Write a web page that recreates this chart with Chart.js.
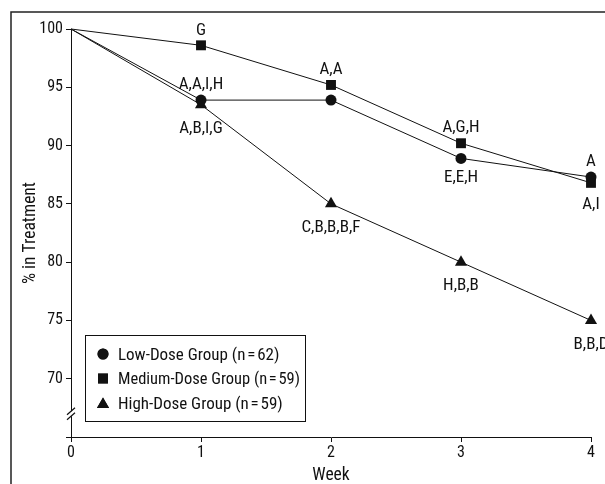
<!DOCTYPE html>
<html>
<head>
<meta charset="utf-8">
<script src="https://cdn.jsdelivr.net/npm/chart.js@4/dist/chart.umd.min.js"></script>
<style>
  html, body { margin: 0; padding: 0; background: #fff; }
</style>
</head>
<body>
<canvas id="chart" width="605" height="484"></canvas>
<script>
// values
const weeks = [0, 1, 2, 3, 4];
const yTicks = [65, 70, 75, 80, 85, 90, 95, 100];

const lowDose = [100, 93.9, 93.9, 88.9, 87.3];
const mediumDose = [100, 98.6, 95.2, 90.2, 86.8];
const highDose = [100, 93.5, 85.0, 80.0, 75.0];

const lowNotes = ['', 'A,A,I,H', '', 'E,E,H', 'A'];
const mediumNotes = ['', 'G', 'A,A', 'A,G,H', 'A,I'];
const highNotes = ['', 'A,B,I,G', 'C,B,B,B,F', 'H,B,B', 'B,B,D'];

const seriesNames = ['Low-Dose Group (n\u200A=\u200A62)', 'Medium-Dose Group (n\u200A=\u200A59)', 'High-Dose Group (n\u200A=\u200A59)'];

const FONT = '"Liberation Sans Narrow", "Arial Narrow", "Roboto Condensed", "DejaVu Sans Condensed", sans-serif';
const INK = '#111';
Chart.defaults.font.family = FONT;
Chart.defaults.color = INK;

// which side of the point each note sits on
const lowSide = ['', 'up', '', 'down', 'up'];
const mediumSide = ['', 'up', 'up', 'up', 'down'];
const highSide = ['', 'down', 'down', 'down', 'down'];

function makeSet(label, values, style, radius, notes, side, gap) {
    return {
        label: label,
        data: weeks.map((w, i) => ({ x: w, y: values[i] })),
        borderColor: INK,
        borderWidth: 1,
        backgroundColor: INK,
        pointStyle: style,
        pointRadius: weeks.map(w => w === 0 ? 0 : radius),
        pointBorderWidth: 0,
        pointBackgroundColor: INK,
        tension: 0,
        clip: false,
        notes: notes,
        noteSide: side,
        noteGap: gap
    };
}

// text above / below the markers
const notesPlugin = {
    id: 'notes',
    afterDatasetsDraw(chart) {
        const ctx = chart.ctx;
        ctx.save();
        ctx.font = '17px ' + FONT;
        ctx.fillStyle = INK;
        ctx.textAlign = 'center';
        ctx.textBaseline = 'middle';
        chart.data.datasets.forEach((ds, di) => {
            const meta = chart.getDatasetMeta(di);
            ds.notes.forEach((txt, i) => {
                if (!txt) return;
                const p = meta.data[i];
                const dy = ds.noteSide[i] === 'up' ? -15 : ds.noteGap;
                ctx.fillText(txt, p.x, p.y + dy);
            });
        });
        ctx.restore();
    }
};

// outer frame, axis break and boxed legend
const decorPlugin = {
    id: 'decor',
    afterDraw(chart) {
        const ctx = chart.ctx;
        const yScale = chart.scales.y;
        const ax = chart.chartArea.left;
        ctx.save();

        // frame (cropped figure border)
        ctx.strokeStyle = '#222';
        ctx.lineWidth = 1.5;
        ctx.beginPath();
        ctx.moveTo(11, 484);
        ctx.lineTo(11, 12);
        ctx.lineTo(605, 12);
        ctx.stroke();

        // break in the y axis
        const by = yScale.getPixelForValue(67);
        ctx.fillStyle = '#fff';
        ctx.fillRect(ax - 2, by - 2.5, 4, 5);
        ctx.strokeStyle = INK;
        ctx.lineWidth = 1.2;
        ctx.beginPath();
        ctx.moveTo(ax - 4, by + 1);
        ctx.lineTo(ax + 4, by - 6);
        ctx.moveTo(ax - 4, by + 6);
        ctx.lineTo(ax + 4, by - 1);
        ctx.stroke();

        // legend
        const lx = 85, ly = 335, lw = 220, lh = 86;
        ctx.lineWidth = 1;
        ctx.strokeStyle = INK;
        ctx.fillStyle = '#fff';
        ctx.fillRect(lx, ly, lw, lh);
        ctx.strokeRect(lx + 0.5, ly + 0.5, lw, lh);
        ctx.font = '17px ' + FONT;
        ctx.textAlign = 'left';
        ctx.textBaseline = 'middle';
        chart.data.datasets.forEach((ds, i) => {
            const rowY = 354 + i * 24.5;
            const r = ds.pointStyle === 'circle' ? 5.5 : 7;
            const shift = ds.pointStyle === 'triangle' ? 1.5 : 0;
            ctx.fillStyle = INK;
            Chart.helpers.drawPoint(ctx, { pointStyle: ds.pointStyle, radius: r, borderWidth: 0 }, 103, rowY + shift);
            ctx.fill();
            ctx.fillText(ds.label, 118, rowY + 1.5, 182);
        });
        ctx.restore();
    }
};

new Chart(document.getElementById('chart'), {
    type: 'line',
    data: {
        datasets: [
            makeSet(seriesNames[0], lowDose, 'circle', 5.5, lowNotes, lowSide, 19),
            makeSet(seriesNames[1], mediumDose, 'rect', 7, mediumNotes, mediumSide, 22),
            makeSet(seriesNames[2], highDose, 'triangle', 7, highNotes, highSide, 24)
        ]
    },
    options: {
        responsive: false,
        animation: false,
        layout: { padding: { left: 0, top: 29, right: 14, bottom: 0 } },
        plugins: {
            legend: { display: false },
            tooltip: { enabled: false }
        },
        scales: {
            x: {
                type: 'linear',
                min: 0,
                max: 4,
                afterBuildTicks: s => { s.ticks = weeks.map(w => ({ value: w })); },
                afterFit: s => { s.height = 47; },
                ticks: { font: { size: 16 }, color: INK, padding: 1, maxRotation: 0 },
                grid: { drawOnChartArea: false, drawTicks: true, tickLength: 5, color: INK, lineWidth: 1 },
                border: { display: true, color: INK, width: 1 },
                title: { display: true, text: 'Week', font: { size: 17.5 }, color: INK, padding: { top: 0, bottom: -2 } }
            },
            y: {
                min: 65,
                max: 100,
                afterBuildTicks: s => { s.ticks = yTicks.map(v => ({ value: v })); },
                afterFit: s => { s.width = 71; },
                ticks: { font: { size: 16 }, color: INK, padding: 3, callback: v => v === 65 ? '' : v },
                grid: { drawOnChartArea: false, drawTicks: true, tickLength: 5, color: INK, lineWidth: 1 },
                border: { display: true, color: INK, width: 1 },
                title: { display: true, text: '% in Treatment', font: { size: 17.5 }, color: INK, padding: { top: 20, bottom: 0 } }
            }
        }
    },
    plugins: [notesPlugin, decorPlugin]
});
</script>
</body>
</html>
